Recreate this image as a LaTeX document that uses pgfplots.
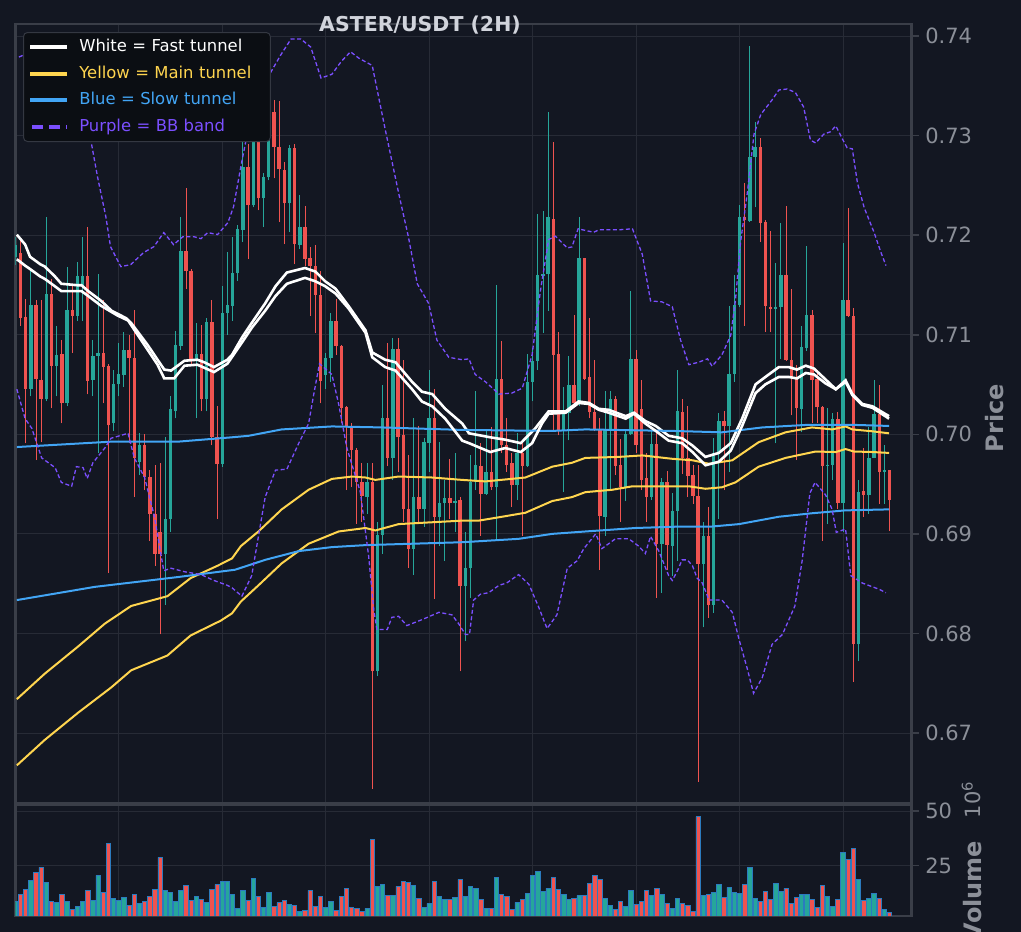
\documentclass[border=0pt]{standalone}
\usepackage{pgfplots}
\pgfplotsset{compat=1.18}
\usepackage{pgfplotstable}
\usepackage{fontspec}
\setmainfont{DejaVu Sans}
\definecolor{bgc}{HTML}{131722}
\definecolor{gridc}{HTML}{272B36}
\definecolor{framec}{HTML}{3A3E48}
\definecolor{tickc}{HTML}{8B8F98}
\definecolor{titlec}{HTML}{D1D4DC}
\definecolor{legbg}{HTML}{0B0E13}
\definecolor{legbd}{HTML}{343842}
\definecolor{upc}{HTML}{26A69A}
\definecolor{dnc}{HTML}{EF5350}
\definecolor{edgec}{HTML}{2B7BBF}
\definecolor{yelc}{HTML}{FFD54F}
\definecolor{bluc}{HTML}{42A5F5}
\definecolor{purc}{HTML}{7B4FFF}

\pgfplotstableread{
i O H L C V
0 0.7178 0.7198 0.7170 0.7190 8.6
3 0.7046 0.7165 0.7038 0.7130 18.1
6 0.7035 0.7218 0.7033 0.7141 17.2
8 0.7069 0.7109 0.7038 0.7080 8.0
10 0.7031 0.7168 0.7028 0.7125 8.3
12 0.7119 0.7173 0.7114 0.7159 6.1
13 0.7149 0.7198 0.7114 0.7159 8.4
15 0.7055 0.7095 0.7038 0.7079 8.9
16 0.7079 0.7161 0.6981 0.7082 20.4
19 0.7011 0.7065 0.7003 0.7051 9.8
20 0.7051 0.7092 0.7038 0.7061 8.9
21 0.7060 0.7103 0.7048 0.7085 10.3
24 0.6972 0.7001 0.6959 0.6989 7.5
29 0.6880 0.6997 0.6829 0.6915 13.5
30 0.6915 0.7038 0.6902 0.7025 12.6
31 0.7023 0.7104 0.7016 0.7090 8.4
32 0.7089 0.7218 0.7085 0.7184 13.5
35 0.7076 0.7112 0.7016 0.7081 10.7
37 0.7035 0.7117 0.7023 0.7113 8.0
40 0.6970 0.7149 0.6967 0.7122 17.6
41 0.7122 0.7183 0.7100 0.7130 17.6
42 0.7129 0.7198 0.7114 0.7162 11.7
43 0.7162 0.7210 0.7154 0.7206 5.2
44 0.7205 0.7331 0.7193 0.7268 13.5
46 0.7230 0.7341 0.7228 0.7311 19.0
48 0.7237 0.7262 0.7208 0.7258 5.7
49 0.7258 0.7391 0.7255 0.7324 12.6
53 0.7232 0.7291 0.7203 0.7288 7.1
55 0.7190 0.7240 0.7186 0.7208 3.8
60 0.7060 0.7082 0.7045 0.7077 5.7
61 0.7077 0.7122 0.7053 0.7114 8.3
68 0.6937 0.6971 0.6920 0.6952 5.2
70 0.6762 0.6912 0.6757 0.6899 15.3
71 0.6899 0.7050 0.6880 0.7016 16.3
73 0.6976 0.7097 0.6954 0.7086 11.2
77 0.6885 0.7016 0.6859 0.6937 15.8
79 0.6925 0.6996 0.6907 0.6992 5.7
80 0.6991 0.7065 0.6962 0.7016 7.5
82 0.6917 0.6992 0.6888 0.6931 10.7
83 0.6931 0.6954 0.6873 0.6936 9.4
85 0.6931 0.6981 0.6902 0.6933 10.3
87 0.6848 0.6902 0.6792 0.6866 10.7
88 0.6866 0.6979 0.6836 0.6952 15.3
89 0.6952 0.7043 0.6944 0.6969 14.4
91 0.6940 0.7003 0.6939 0.6962 5.2
93 0.6947 0.7150 0.6895 0.7056 19.5
97 0.6949 0.7001 0.6934 0.6981 8.0
99 0.6968 0.7081 0.6967 0.7053 12.1
100 0.7053 0.7087 0.7033 0.7074 20.4
101 0.7074 0.7221 0.7065 0.7160 22.2
102 0.7159 0.7224 0.7102 0.7161 13.0
103 0.7161 0.7324 0.7124 0.7218 14.4
106 0.7003 0.7048 0.6942 0.7021 11.7
107 0.7021 0.7079 0.6994 0.7050 9.4
109 0.7031 0.7218 0.7028 0.7177 11.2
114 0.6917 0.7043 0.6898 0.7005 9.8
115 0.7005 0.7043 0.6944 0.7035 6.6
118 0.6947 0.7005 0.6933 0.7000 6.1
119 0.7000 0.7144 0.6999 0.7076 13.5
123 0.6937 0.7003 0.6934 0.6990 11.2
125 0.6890 0.6956 0.6841 0.6952 11.7
127 0.6888 0.6941 0.6858 0.6923 5.2
128 0.6923 0.7065 0.6873 0.7023 9.8
133 0.6870 0.6912 0.6806 0.6898 11.2
135 0.6829 0.6996 0.6821 0.6981 12.6
136 0.6981 0.7021 0.6915 0.7013 16.3
138 0.7008 0.7129 0.6962 0.7061 14.9
139 0.7061 0.7160 0.7053 0.7130 12.6
140 0.7130 0.7230 0.7128 0.7218 12.1
142 0.7214 0.7390 0.7213 0.7279 24.1
143 0.7279 0.7314 0.7228 0.7289 9.8
147 0.7126 0.7172 0.6991 0.7128 16.7
148 0.7128 0.7212 0.7076 0.7160 13.0
152 0.7025 0.7109 0.7002 0.7088 11.7
153 0.7087 0.7189 0.7084 0.7120 11.7
157 0.6968 0.7026 0.6910 0.6969 10.7
158 0.6969 0.7021 0.6954 0.7015 6.1
160 0.6931 0.7192 0.6902 0.7135 31.0
163 0.6789 0.6954 0.6772 0.6942 18.6
165 0.6939 0.7007 0.6920 0.6976 9.8
166 0.6976 0.7055 0.6976 0.7020 12.1
168 0.6962 0.6989 0.6930 0.6964 4.8
}\upt

\pgfplotstableread{
i O H L C V
1 0.7182 0.7196 0.7109 0.7117 11.7
2 0.7118 0.7136 0.6991 0.7046 13.8
4 0.7130 0.7135 0.6974 0.7056 21.8
5 0.7055 0.7135 0.6992 0.7035 24.1
7 0.7141 0.7156 0.7026 0.7069 8.3
9 0.7081 0.7095 0.7011 0.7031 11.7
11 0.7125 0.7149 0.7082 0.7119 4.6
14 0.7159 0.7208 0.7040 0.7054 13.5
17 0.7082 0.7135 0.7031 0.7068 12.6
18 0.7069 0.7071 0.6861 0.7009 35.1
22 0.7085 0.7100 0.6991 0.7077 6.6
23 0.7077 0.7125 0.6937 0.6976 11.7
25 0.6989 0.7000 0.6944 0.6957 8.4
26 0.6957 0.6964 0.6893 0.6920 10.7
27 0.6920 0.6969 0.6868 0.6880 14.0
28 0.6902 0.6971 0.6799 0.6880 28.7
33 0.7184 0.7247 0.7146 0.7164 15.8
34 0.7164 0.7166 0.7070 0.7076 8.7
36 0.7081 0.7110 0.7023 0.7035 9.2
38 0.7113 0.7135 0.6989 0.6997 14.0
39 0.6997 0.7028 0.6915 0.6970 16.3
45 0.7268 0.7292 0.7176 0.7230 8.7
47 0.7311 0.7314 0.7225 0.7237 10.7
50 0.7324 0.7336 0.7257 0.7289 6.1
51 0.7289 0.7335 0.7213 0.7266 7.8
52 0.7265 0.7273 0.7191 0.7232 8.9
54 0.7288 0.7292 0.7171 0.7191 6.6
56 0.7208 0.7229 0.7169 0.7176 4.3
57 0.7177 0.7188 0.7119 0.7169 13.5
58 0.7169 0.7190 0.7102 0.7140 6.1
59 0.7140 0.7164 0.7031 0.7054 10.7
62 0.7114 0.7136 0.7080 0.7089 4.3
63 0.7089 0.7090 0.7011 0.7026 10.7
64 0.7027 0.7028 0.6944 0.7008 14.4
65 0.7008 0.7011 0.6947 0.6984 5.7
66 0.6984 0.6986 0.6910 0.6952 5.1
67 0.6952 0.6971 0.6912 0.6938 3.8
69 0.6952 0.6971 0.6644 0.6762 37.0
72 0.7016 0.7092 0.6968 0.6976 11.2
74 0.7086 0.7097 0.6962 0.6997 15.3
75 0.6999 0.7075 0.6912 0.6925 17.6
76 0.6925 0.6979 0.6866 0.6885 17.2
78 0.6937 0.7008 0.6912 0.6925 9.8
81 0.7016 0.7045 0.6835 0.6917 17.6
84 0.6936 0.6975 0.6915 0.6931 9.2
86 0.6934 0.6937 0.6762 0.6848 18.6
90 0.6968 0.6991 0.6898 0.6940 9.2
92 0.6962 0.7007 0.6944 0.6947 5.1
94 0.7056 0.7094 0.6981 0.6989 11.7
95 0.6989 0.7016 0.6962 0.6969 10.7
96 0.6971 0.6981 0.6927 0.6949 4.6
98 0.6981 0.6994 0.6898 0.6968 9.4
104 0.7216 0.7294 0.7003 0.7080 19.5
105 0.7081 0.7103 0.6999 0.7003 14.0
108 0.7050 0.7120 0.7028 0.7031 9.8
110 0.7177 0.7177 0.7055 0.7056 11.2
111 0.7058 0.7117 0.7016 0.7022 16.7
112 0.7022 0.7075 0.7003 0.7005 20.4
113 0.7005 0.7016 0.6864 0.6918 18.6
116 0.7035 0.7038 0.6959 0.6968 4.6
117 0.6969 0.6995 0.6912 0.6947 8.3
120 0.7076 0.7085 0.6981 0.6989 7.1
121 0.7025 0.7055 0.6944 0.6954 8.3
122 0.6956 0.6981 0.6912 0.6937 13.5
124 0.6990 0.7003 0.6836 0.6890 14.4
126 0.6952 0.6963 0.6864 0.6889 7.5
129 0.7022 0.7035 0.6960 0.6976 7.5
130 0.6976 0.7028 0.6937 0.6958 6.6
131 0.6959 0.6969 0.6930 0.6938 3.8
132 0.6938 0.6969 0.6651 0.6870 47.5
134 0.6898 0.6927 0.6816 0.6829 11.7
137 0.7013 0.7023 0.6944 0.7008 10.3
141 0.7218 0.7252 0.7109 0.7215 16.3
144 0.7289 0.7298 0.7193 0.7212 8.3
145 0.7213 0.7215 0.7103 0.7129 13.0
146 0.7128 0.7204 0.7103 0.7126 9.2
149 0.7160 0.7229 0.7074 0.7075 14.4
150 0.7075 0.7146 0.7019 0.7058 7.5
151 0.7058 0.7070 0.6974 0.7026 10.3
154 0.7120 0.7125 0.7011 0.7055 9.2
155 0.7056 0.7065 0.7011 0.7027 5.7
156 0.7027 0.7028 0.6893 0.6968 15.8
159 0.7015 0.7022 0.6925 0.6931 9.2
161 0.7135 0.7227 0.7118 0.7119 27.8
162 0.7119 0.7127 0.6751 0.6789 32.8
164 0.6943 0.6986 0.6917 0.6939 8.7
167 0.7020 0.7050 0.6930 0.6962 9.8
169 0.6964 0.6964 0.6903 0.6934 3.4
}\dnt

\pgfplotsset{
  panel/.style={
    scale only axis, width=896.5pt,
    xmin=0, xmax=173.3,
    xtick={0,20,...,160}, xticklabels={}, xmajorticks=false,
    grid=major,
    major grid style={draw=gridc, line width=1pt},
    axis line style={draw=framec, line width=2.8pt},
    ytick pos=right, yticklabel pos=right,
    tick align=outside, major tick length=7pt,
    every tick/.append style={draw=framec, line width=1.6pt},
    /pgf/number format/assume math mode=true,
    yticklabel style={font=\fontsize{21}{25}\selectfont, text=tickc, xshift=3pt},
    clip=true,
  },
  candle/.style={forget plot, only marks, mark=*, mark size=0.01pt,
    mark options={draw opacity=0, fill opacity=0},
    error bars/.cd, y dir=plus, y explicit, error mark=none},
}

\begin{document}
\begin{tikzpicture}
\path[fill=bgc, use as bounding box] (0pt,0pt) rectangle (1021pt,932pt);

\begin{axis}[panel,
  at={(15.3pt,129pt)}, anchor=south west, height=779pt,
  ymin=0.66297, ymax=0.74121,
  ytick={0.67,0.68,0.69,0.70,0.71,0.72,0.73,0.74},
  yticklabel style={/pgf/number format/.cd, fixed, fixed zerofill, precision=2},
  legend style={at={(0.0086,0.9897)}, anchor=north west, fill=legbg, draw=legbd,
    line width=1pt, rounded corners=4pt, inner xsep=5pt, inner ysep=7pt,
    font=\fontsize{16.4}{19}\selectfont, row sep=11pt,
    nodes={inner sep=0pt, text height=12pt, text depth=3.5pt},
    /tikz/every odd column/.append style={column sep=10pt}},
  legend cell align=left,
  legend image code/.code={\draw[#1, line width=3.8pt, solid] (0pt,0pt) -- (37pt,0pt);},
]
% wicks
\addplot[candle, error bar style={draw=upc, line width=0.9pt}]
  table[x=i, y=L, y error expr=\thisrow{H}-\thisrow{L}] {\upt};
\addplot[candle, error bar style={draw=dnc, line width=0.9pt}]
  table[x=i, y=L, y error expr=\thisrow{H}-\thisrow{L}] {\dnt};
% bodies
\addplot[candle, error bar style={draw=upc, line width=3.4pt}]
  table[x=i, y=O, y error expr={max(\thisrow{C}-\thisrow{O},0.00015)}] {\upt};
\addplot[candle, error bar style={draw=dnc, line width=3.4pt}]
  table[x=i, y=C, y error expr={max(\thisrow{O}-\thisrow{C},0.00015)}] {\dnt};

% white fast tunnel
\addplot[white, line width=2.6pt] coordinates {
(0.3,0.72005)(1.9,0.71906)(2.85,0.71783)(4.8,0.71709)(5.7,0.71685)(7.65,0.71586)(8.9,0.71512)(12.1,0.71497)(12.8,0.71497)(14.1,0.71438)(16.6,0.71340)(18.6,0.71241)(21.4,0.71167)(22.4,0.71118)(25.6,0.70896)(27.5,0.70749)(28.8,0.70650)(30.1,0.70640)(31.4,0.70689)(32.7,0.70739)(35.2,0.70749)(36.5,0.70724)(38.4,0.70675)(41.0,0.70749)(41.9,0.70798)(43.8,0.70970)(45.7,0.71118)(48.3,0.71315)(50.3,0.71487)(52.5,0.71625)(56.0,0.71670)(58.0,0.71635)(59.9,0.71537)(61.9,0.71463)(64.4,0.71290)(67.7,0.71044)(69.0,0.70822)(71.5,0.70749)(73.5,0.70724)(76.7,0.70527)(78.6,0.70428)(80.6,0.70404)(83.1,0.70256)(86.4,0.70108)(87.7,0.70010)(91.8,0.69970)(94.7,0.69946)(97.7,0.69911)(100.5,0.70059)(103.1,0.70231)(106.4,0.70231)(108.9,0.70330)(110.9,0.70315)(112.8,0.70256)(114.7,0.70246)(118.0,0.70182)(119.6,0.70217)(121.8,0.70133)(123.8,0.70084)(126.3,0.69985)(128.9,0.69960)(130.9,0.69887)(133.4,0.69773)(136.0,0.69813)(138.3,0.69911)(140.5,0.70157)(143.1,0.70502)(145.0,0.70576)(147.6,0.70675)(149.5,0.70675)(151.1,0.70650)(152.8,0.70689)(154.4,0.70660)(156.6,0.70552)(158.6,0.70453)(160.5,0.70542)(161.8,0.70404)(163.7,0.70305)(165.7,0.70281)(168.9,0.70182)
};
\addlegendentry[text=white, text width=186pt]{White = Fast tunnel}
% yellow main tunnel
\addplot[yelc, line width=2pt] coordinates {
(0.3,0.67340)(5.7,0.67596)(12.1,0.67867)(17.3,0.68098)(22.4,0.68276)(29.4,0.68374)(33.9,0.68556)(39.1,0.68680)(41.9,0.68754)(43.6,0.68877)(47.0,0.69024)(51.5,0.69246)(56.7,0.69443)(61.2,0.69552)(65.1,0.69576)(67.7,0.69566)(69.6,0.69542)(74.1,0.69576)(80.6,0.69566)(86.4,0.69542)(90.9,0.69527)(98.6,0.69566)(103.8,0.69675)(107.6,0.69714)(110.2,0.69763)(116.7,0.69773)(121.2,0.69788)(127.0,0.69754)(130.9,0.69739)(134.1,0.69704)(138.6,0.69739)(143.7,0.69921)(148.9,0.70020)(154.0,0.70069)(157.9,0.70049)(160.5,0.70079)(161.8,0.70049)(165.7,0.70030)(168.9,0.70010)
};
\addlegendentry[text=yelc, text width=186pt]{Yellow = Main tunnel}
% blue slow tunnel
\addplot[bluc, line width=2pt] coordinates {
(0.3,0.69872)(18.5,0.69926)(31.4,0.69926)(41.9,0.69970)(45.1,0.69985)(51.5,0.70049)(61.2,0.70079)(70.9,0.70069)(86.4,0.70044)(103.8,0.70034)(110.2,0.70049)(127,0.70034)(136.6,0.70020)(144.4,0.70069)(152.8,0.70094)(162.4,0.70094)(168.9,0.70084)
};
\addlegendentry[text=bluc, text width=186pt]{Blue = Slow tunnel}
% purple BB band
\addplot[purc, line width=1.3pt, dash pattern=on 4pt off 2.5pt,
  legend image code/.code={\draw[purc, line width=3.8pt, dash pattern=on 11pt off 6pt] (2pt,0pt) -- (37pt,0pt);}] coordinates {
(0.7,0.73789)(3.0,0.73840)(5.5,0.73762)(7.8,0.73659)(10.1,0.73578)(12.1,0.73457)(14.6,0.72955)(15.9,0.72584)(17.5,0.72187)(18.4,0.71885)(20.4,0.71684)(22.3,0.71704)(24.8,0.71825)(26.8,0.71885)(28.7,0.72026)(30.6,0.71905)(32.4,0.71985)(34.5,0.71985)(35.9,0.71965)(37.2,0.72026)(39.1,0.72006)(41.1,0.72126)(42.2,0.72287)(43.6,0.72688)(44.6,0.72955)(46.1,0.73357)(48.0,0.73457)(49.4,0.73638)(51.3,0.73809)(53.3,0.73970)(55.2,0.73970)(57.1,0.73890)(59.1,0.73578)(61.2,0.73616)(63.0,0.73744)(64.8,0.73842)(66.4,0.73778)(69.0,0.73704)(71.5,0.73064)(74.1,0.72423)(76.0,0.71980)(77.7,0.71512)(79.9,0.71315)(81.5,0.70946)(83.8,0.70773)(86.4,0.70749)(87.7,0.70758)(88.9,0.70601)(90.9,0.70527)(93.5,0.70404)(96.0,0.70414)(98.0,0.70463)(99.9,0.70798)(101.5,0.71438)(103.1,0.71956)(104.4,0.71990)(106.7,0.71872)(107.6,0.71882)(108.8,0.72064)(111.8,0.72029)(112.8,0.72054)(116.7,0.72054)(119.3,0.72064)(121.2,0.71808)(122.8,0.71340)(125.0,0.71330)(127.0,0.71281)(128.6,0.70946)(130.2,0.70699)(132.1,0.70724)(133.8,0.70758)(134.7,0.70684)(136.6,0.70798)(138.3,0.70995)(139.2,0.71340)(140.2,0.71931)(141.5,0.72423)(142.8,0.73015)(144.1,0.73212)(146.3,0.73359)(147.6,0.73458)(149.2,0.73468)(150.8,0.73433)(152.4,0.73286)(153.7,0.72956)(154.7,0.72926)(156.3,0.73015)(157.6,0.73039)(158.6,0.73098)(159.9,0.72965)(160.8,0.72877)(161.8,0.72867)(162.8,0.72522)(164.1,0.72276)(166.0,0.72029)(167.3,0.71832)(168.3,0.71695)
};
\addlegendentry[text=purc, text width=186pt]{Purple = BB band}
% second lines of each tunnel / band
\addplot[forget plot, white, line width=2.6pt] coordinates {
(0.3,0.71758)(1.9,0.71694)(2.85,0.71660)(4.8,0.71586)(5.7,0.71561)(7.65,0.71487)(8.9,0.71438)(12.8,0.71438)(14.1,0.71389)(16.6,0.71290)(19.8,0.71192)(21.8,0.71143)(25.6,0.70847)(27.5,0.70699)(28.8,0.70561)(30.7,0.70561)(32.7,0.70689)(35.2,0.70699)(38.4,0.70625)(41.0,0.70709)(43.8,0.70921)(45.7,0.71069)(48.3,0.71241)(50.3,0.71389)(52.5,0.71512)(56.0,0.71571)(58.0,0.71537)(59.9,0.71487)(61.9,0.71414)(64.4,0.71266)(67.7,0.71020)(69.0,0.70773)(71.5,0.70675)(73.5,0.70640)(76.7,0.70453)(78.6,0.70330)(80.6,0.70281)(83.1,0.70157)(86.4,0.69936)(87.7,0.69911)(91.8,0.69822)(94.7,0.69862)(97.7,0.69822)(99.9,0.69911)(101.8,0.70108)(103.1,0.70207)(106.4,0.70217)(108.9,0.70315)(110.9,0.70305)(112.8,0.70246)(114.7,0.70217)(118.0,0.70157)(119.6,0.70207)(121.8,0.70108)(123.8,0.70034)(126.3,0.69936)(128.9,0.69911)(130.9,0.69822)(133.4,0.69689)(136.0,0.69724)(138.3,0.69837)(140.5,0.70084)(143.1,0.70414)(145.0,0.70502)(147.6,0.70576)(149.5,0.70576)(151.1,0.70561)(152.8,0.70616)(154.4,0.70601)(156.6,0.70512)(158.6,0.70453)(160.5,0.70527)(161.8,0.70394)(163.7,0.70295)(165.7,0.70266)(168.9,0.70157)
};
\addplot[forget plot, yelc, line width=2pt] coordinates {
(0.3,0.66675)(5.7,0.66931)(12.1,0.67202)(18.55,0.67458)(22.4,0.67630)(29.4,0.67778)(33.9,0.67980)(39.7,0.68128)(41.9,0.68202)(43.6,0.68320)(47.0,0.68483)(51.5,0.68704)(56.7,0.68901)(62.5,0.69024)(67.7,0.69059)(69.6,0.69034)(74.1,0.69098)(79.3,0.69113)(86.4,0.69133)(89.6,0.69133)(94.1,0.69172)(98.6,0.69212)(103.8,0.69330)(107.6,0.69369)(110.2,0.69419)(115.4,0.69443)(119.3,0.69478)(127.0,0.69478)(130.2,0.69478)(133.4,0.69453)(136.6,0.69468)(139.2,0.69517)(143.7,0.69675)(148.9,0.69763)(154.7,0.69827)(158.6,0.69822)(160.5,0.69852)(162.1,0.69827)(165.7,0.69822)(168.9,0.69813)
};
\addplot[forget plot, bluc, line width=2pt] coordinates {
(0.3,0.68335)(15.4,0.68468)(31.4,0.68566)(42.5,0.68640)(48.3,0.68739)(54.8,0.68827)(61.2,0.68867)(67.7,0.68887)(86.4,0.68916)(97.3,0.68950)(103.8,0.69000)(110.2,0.69024)(119.9,0.69059)(128.9,0.69074)(134.7,0.69074)(139.9,0.69098)(147.6,0.69172)(154.0,0.69207)(160.5,0.69236)(168.9,0.69246)
};
\addplot[forget plot, purc, line width=1.3pt, dash pattern=on 4pt off 2.5pt] coordinates {
(0.3,0.70453)(1.9,0.70157)(3.2,0.70059)(5.1,0.69763)(7.7,0.69665)(8.9,0.69517)(10.9,0.69478)(11.8,0.69675)(13.1,0.69665)(13.9,0.69556)(15.0,0.69714)(17.3,0.69862)(18.5,0.69960)(21.8,0.70010)(23.0,0.69763)(25.0,0.69566)(26.9,0.69172)(28.7,0.68630)(30.1,0.68655)(32.7,0.68620)(35.9,0.68591)(38.4,0.68532)(41.0,0.68483)(41.9,0.68458)(43.8,0.68374)(45.7,0.68581)(47.0,0.68975)(48.3,0.69369)(50.3,0.69640)(52.5,0.69650)(54.8,0.69911)(56.7,0.70108)(57.7,0.70404)(58.8,0.70709)(61.2,0.70601)(62.5,0.70305)(64.1,0.69862)(66.7,0.69419)(68.3,0.68778)(69.3,0.68236)(69.9,0.68039)(71.9,0.68039)(72.8,0.68162)(74.1,0.68172)(75.7,0.68079)(78.6,0.68138)(81.9,0.68212)(84.4,0.68187)(85.7,0.68098)(87.0,0.67990)(87.8,0.67990)(88.6,0.68335)(89.9,0.68394)(91.5,0.68409)(93.5,0.68483)(95.0,0.68507)(97.3,0.68591)(99.3,0.68492)(101.2,0.68261)(102.8,0.68049)(104.7,0.68187)(106.7,0.68655)(108.6,0.68729)(109.9,0.68852)(112.2,0.69000)(113.4,0.68852)(116.0,0.68950)(118.6,0.68950)(120.5,0.68877)(121.8,0.68803)(122.8,0.68975)(124.4,0.68827)(126.3,0.68581)(127.0,0.68532)(128.0,0.68630)(128.9,0.68739)(129.9,0.68739)(130.9,0.68680)(131.8,0.68556)(132.8,0.68507)(134.1,0.68335)(136.6,0.68335)(138.6,0.68212)(139.9,0.67941)(141.5,0.67645)(142.7,0.67399)(144.4,0.67557)(146.3,0.67891)(148.3,0.67990)(150.7,0.68276)(152.1,0.68729)(153.6,0.69409)(154.6,0.69517)(156.6,0.69394)(157.9,0.69246)(158.7,0.69015)(160.5,0.69049)(161.5,0.68581)(163.7,0.68507)(165.7,0.68468)(167.0,0.68443)(168.3,0.68409)
};
\end{axis}

\begin{axis}[panel,
  at={(15.3pt,16pt)}, anchor=south west, height=111pt,
  ymin=1.7, ymax=52.8, ytick={25,50},
]
\addplot[ybar, bar shift=0pt, bar width=0.85, fill=upc, draw=edgec, line width=0.7pt]
  table[x=i, y=V] {\upt};
\addplot[ybar, bar shift=0pt, bar width=0.85, fill=dnc, draw=edgec, line width=0.7pt]
  table[x=i, y=V] {\dnt};
\end{axis}

\node[anchor=base, font=\bfseries\fontsize{20.5}{24}\selectfont, text=titlec] at (420pt,900.5pt) {ASTER/USDT (2H)};
\node[rotate=90, font=\bfseries\fontsize{24}{28}\selectfont, text=tickc] at (995pt,514pt) {Price};
\node[rotate=90, font=\bfseries\fontsize{24}{28}\selectfont, text=tickc] at (973pt,41pt) {Volume};
\node[rotate=90, font=\fontsize{21}{25}\selectfont, text=tickc] at (971pt,132pt) {10\textsuperscript{6}};
\end{tikzpicture}
\end{document}
